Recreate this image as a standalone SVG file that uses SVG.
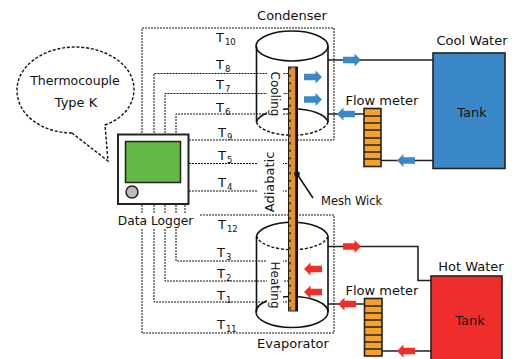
<svg xmlns="http://www.w3.org/2000/svg" width="512" height="359" viewBox="0 0 512 359">
<defs>
<style>
text{font-family:"DejaVu Sans","Liberation Sans",sans-serif;font-size:12px;fill:#111}
.sub{font-size:8.5px}
.t{font-size:13px}
.dot{fill:none;stroke:#111;stroke-width:1;stroke-dasharray:2 1}
.dash{fill:none;stroke:#111;stroke-width:1.400;stroke-dasharray:3 1.800}
.cyl{fill:none;stroke:#111;stroke-width:1.600}
.pipe{fill:none;stroke:#222;stroke-width:1.600}
.meter{fill:#f7a128;stroke:#222;stroke-width:1.600}
</style>
<path id="ar" d="M0-3.200H11.500V-6.500L18 0L11.500 6.500V3.200H0Z"/>
</defs>
<g id="connectors">
<path class="dot" d="M142 133V28H334V140H189"/>
<path class="dot" d="M154 133V73.500H290M165 133V93.500H290M176 133V114H290"/>
<path class="dot" d="M189 163.500H290M189 191H290"/>
<path class="dot" d="M200 215H334V333H142V229"/>
<path class="dot" d="M154 229V302H290M165 229V281H290M176 229V261H290"/>
<path class="dot" d="M142 205V213M154 205V213M165 205V213M176 205V213M185 205V213"/>
<path class="pipe" d="M328 60H433M328 114H364M381 160.500H433M328 246.500H418V280.500H431M328 304H364M382 351H431"/>
<path d="M297 174L313 198" stroke="#111" stroke-width="1.500" fill="none"/>
<g fill="#3b88c8">
<use href="#ar" transform="translate(343 60)"/>
<use href="#ar" transform="translate(304 77)"/>
<use href="#ar" transform="translate(304 99.500)"/>
<use href="#ar" transform="translate(355 114) scale(-1 1)"/>
<use href="#ar" transform="translate(415 160.500) scale(-1 1)"/>
</g>
<g fill="#ef2e2c">
<use href="#ar" transform="translate(343 246.500)"/>
<use href="#ar" transform="translate(322 269) scale(-1 1)"/>
<use href="#ar" transform="translate(322 292) scale(-1 1)"/>
<use href="#ar" transform="translate(356 304) scale(-1 1)"/>
<use href="#ar" transform="translate(415 351) scale(-1 1)"/>
</g>
</g>
<g id="bubble">
<path class="dash" d="M72 133C45 133 17 117 17 90C17 65 45 47 75 47C106 47 134 65 134 89C134 106 122 119 105 125L108 161L72 133"/>
<text x="75" y="85" text-anchor="middle" style="font-size:12.500px">Thermocouple</text>
<text x="76" y="107" text-anchor="middle" class="t">Type K</text>
</g>
<g id="condenser">
<ellipse class="cyl" cx="292" cy="46" rx="36" ry="15"/>
<path class="cyl" d="M256.500 46V122M328 46V122"/>
<path class="cyl" d="M256.500 122A36 15 0 0 1 328 122"/>
<path class="dash" d="M256.500 122A36 15 0 0 0 328 122"/>
<rect x="267" y="66" width="16" height="53" fill="#fff"/>
<text transform="translate(271 94) rotate(90)" text-anchor="middle">Cooling</text>
<text x="292" y="20" text-anchor="middle" class="t">Condenser</text>
</g>
<g id="evaporator">
<ellipse class="cyl" cx="292" cy="312" rx="36" ry="15.500"/>
<path class="cyl" d="M256.500 236V312M328 236V312"/>
<path class="cyl" d="M256.500 236A36 15.500 0 0 1 328 236"/>
<path class="dash" d="M256.500 236A36 15.500 0 0 0 328 236"/>
<rect x="267" y="258" width="16" height="52" fill="#fff"/>
<text transform="translate(271 285) rotate(90)" text-anchor="middle">Heating</text>
<text x="293" y="348" text-anchor="middle" class="t">Evaporator</text>
</g>
<g id="rod">
<rect x="258" y="150" width="25" height="63" fill="#fff"/>
<rect x="288.500" y="67" width="9" height="244" fill="#e8902a" stroke="#222" stroke-width="1"/>
<path d="M296.500 67V311" stroke="#111" stroke-width="2.500"/>
<path d="M290 67V311" stroke="#111" stroke-width="1.200" stroke-dasharray="2.500 5"/>
<circle cx="297" cy="174" r="2.800" fill="#111"/>
<text transform="translate(274 182) rotate(-90)" text-anchor="middle" class="t">Adiabatic</text>
<text x="321" y="205" style="font-size:11.500px">Mesh Wick</text>
</g>
<g id="logger">
<rect x="118" y="134.500" width="70.500" height="69.500" fill="#fff" stroke="#222" stroke-width="2"/>
<rect x="125.500" y="141.500" width="55" height="41" fill="#62b946" stroke="#222" stroke-width="1.500"/>
<circle cx="132" cy="192" r="6" fill="#bbb" stroke="#222" stroke-width="1.500"/>
<text x="155.500" y="225" text-anchor="middle" style="font-size:12.300px">Data Logger</text>
</g>
<g id="labels">
<text x="216" y="42" class="t">T<tspan class="sub" dx="1" dy="3">10</tspan></text>
<text x="216" y="69" class="t">T<tspan class="sub" dx="1" dy="3">8</tspan></text>
<text x="216" y="89" class="t">T<tspan class="sub" dx="1" dy="3">7</tspan></text>
<text x="216" y="112" class="t">T<tspan class="sub" dx="1" dy="3">6</tspan></text>
<text x="218" y="137" class="t">T<tspan class="sub" dx="1" dy="3">9</tspan></text>
<text x="218" y="160" class="t">T<tspan class="sub" dx="1" dy="3">5</tspan></text>
<text x="218" y="187" class="t">T<tspan class="sub" dx="1" dy="3">4</tspan></text>
<text x="218" y="229" class="t">T<tspan class="sub" dx="1" dy="3">12</tspan></text>
<text x="217" y="257" class="t">T<tspan class="sub" dx="1" dy="3">3</tspan></text>
<text x="217" y="278" class="t">T<tspan class="sub" dx="1" dy="3">2</tspan></text>
<text x="217" y="300" class="t">T<tspan class="sub" dx="1" dy="3">1</tspan></text>
<text x="217" y="329" class="t">T<tspan class="sub" dx="1" dy="3">11</tspan></text>
</g>
<g id="cool-tank">
<rect x="433" y="53" width="72" height="115.500" fill="#3b88c8" stroke="#222" stroke-width="1.600"/>
<text x="472" y="117" text-anchor="middle" class="t">Tank</text>
<text x="472" y="45" text-anchor="middle" class="t">Cool Water</text>
</g>
<g id="hot-tank">
<rect x="431" y="276" width="71" height="95" fill="#ef2e2c" stroke="#222" stroke-width="1.600"/>
<text x="470" y="325" text-anchor="middle" class="t">Tank</text>
<text x="471" y="271" text-anchor="middle" class="t">Hot Water</text>
</g>
<g id="flow-meter-cool">
<rect class="meter" x="364" y="108.500" width="17" height="58"/>
<path class="pipe" d="M364 116H381M364 123H381M364 130H381M364 138H381M364 145H381M364 152H381M364 159H381"/>
<text x="382" y="105" text-anchor="middle" class="t">Flow meter</text>
</g>
<g id="flow-meter-hot">
<rect class="meter" x="364.500" y="298.500" width="17.500" height="57.500"/>
<path class="pipe" d="M364.500 306H382M364.500 313H382M364.500 320H382M364.500 327H382M364.500 335H382M364.500 342H382M364.500 349H382"/>
<text x="382" y="295" text-anchor="middle" class="t">Flow meter</text>
</g>
</svg>
